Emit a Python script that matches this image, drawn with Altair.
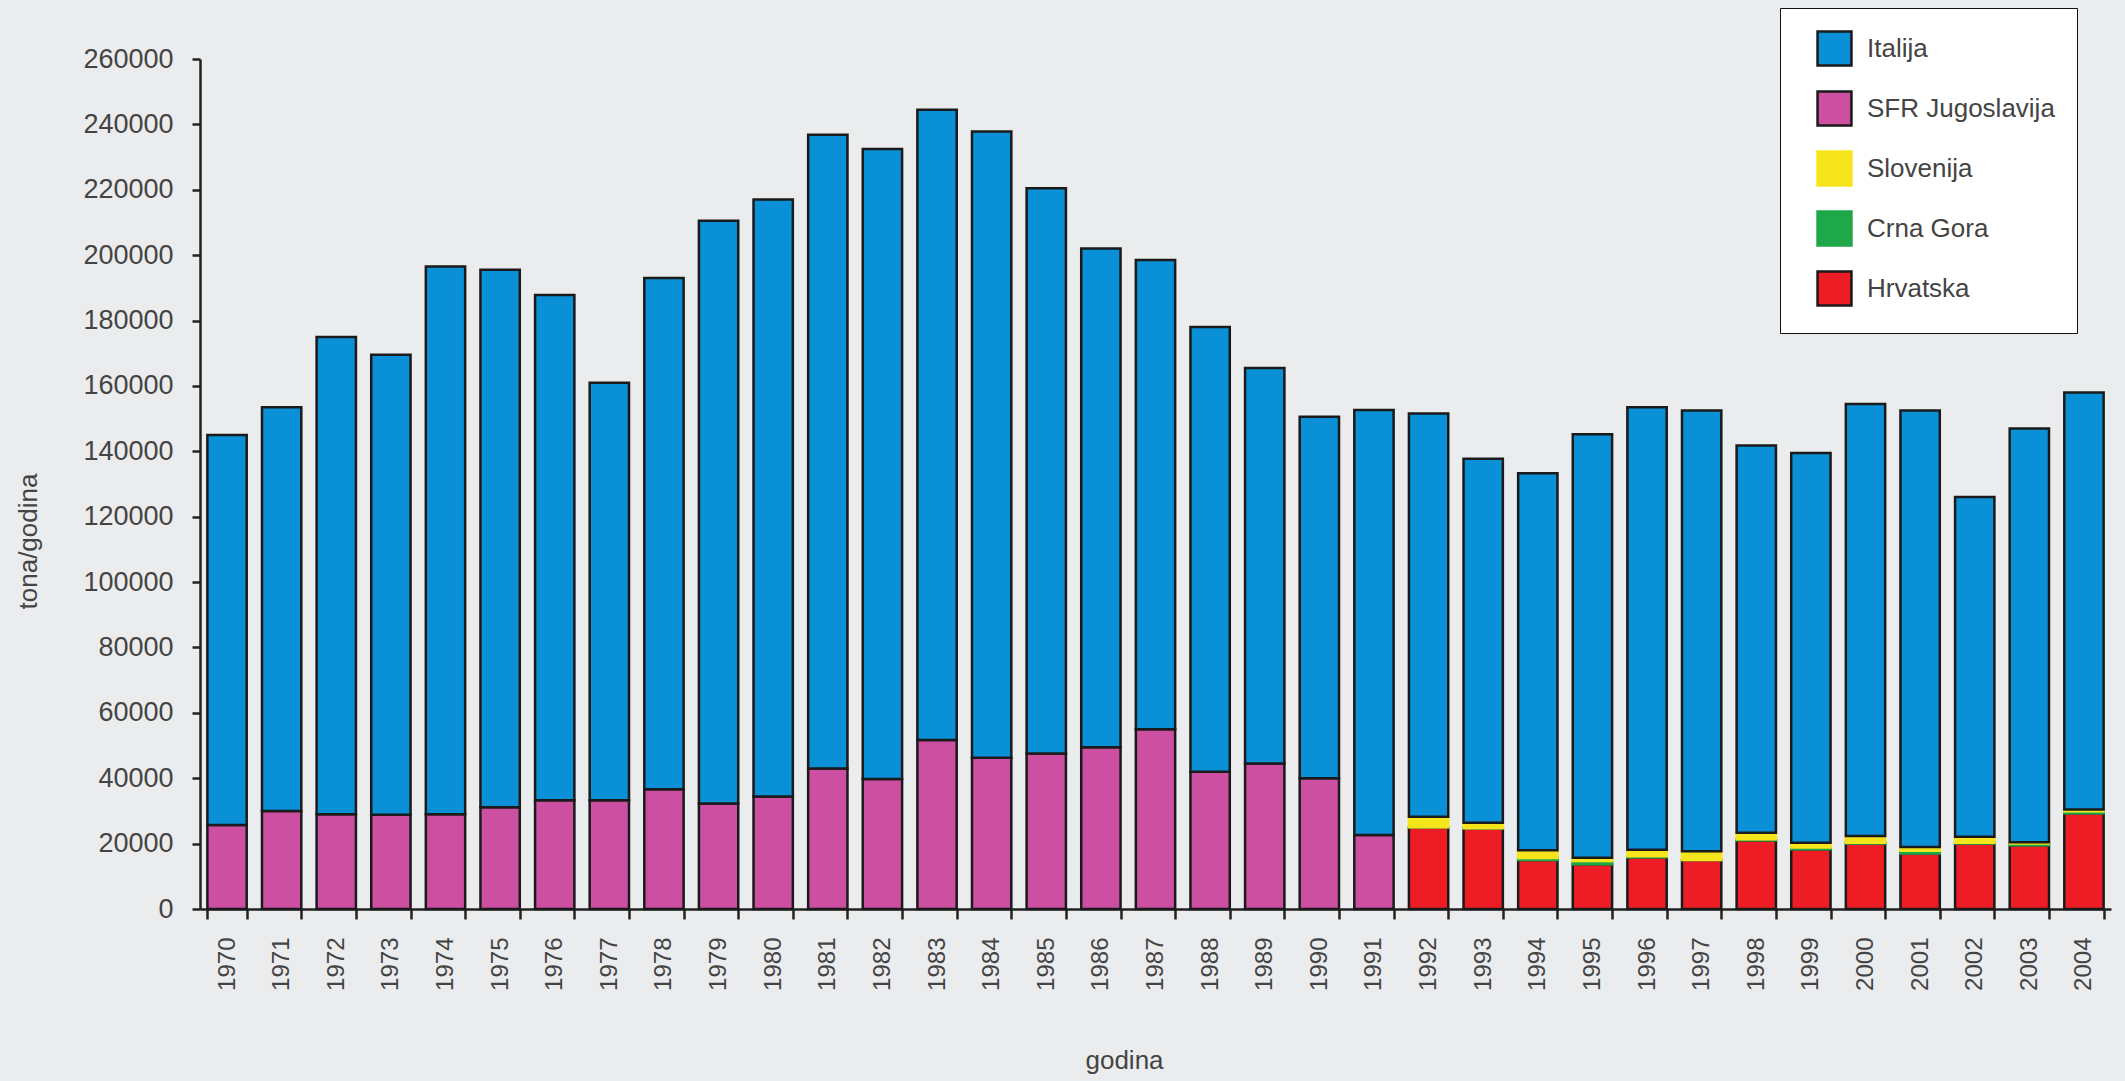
import altair as alt
import pandas as pd

years = [str(y) for y in range(1970, 2005)]

countries = ["Italija", "SFR Jugoslavija", "Slovenija", "Crna Gora", "Hrvatska"]
colors = ["#0a90d6", "#cc4fa2", "#f6e51c", "#1fa84a", "#ee1d25"]
outline_colors = ["#1a1a1a", "#1a1a1a", "#f6e51c", "#1fa84a", "#1a1a1a"]
stack_pos = [4, 3, 2, 1, 0]

italija = [119300, 123500, 146000, 140700, 167500, 164400, 154500, 127700, 156400, 178200,
           182600, 193800, 192700, 192800, 191500, 172900, 152500, 143500, 136000, 121000,
           110600, 130000, 123400, 111300, 115300, 129500, 135400, 134800, 118500, 119200,
           132200, 133500, 103900, 126600, 127600]

sfr_years = [str(y) for y in range(1970, 1992)]
sfr = [25700, 30000, 29000, 28800, 29000, 31100, 33300, 33300, 36600, 32300, 34400,
       43000, 39800, 51700, 46300, 47600, 49500, 55000, 42000, 44500, 40000, 22600]

new_years = [str(y) for y in range(1992, 2005)]
slovenija = [3200, 1700, 2400, 1000, 2000, 2700, 2000, 1500, 2000, 1200, 1800, 400, 500]
crna_gora = [0, 0, 600, 1000, 300, 0, 300, 500, 300, 800, 300, 500, 600]
hrvatska = [25000, 24700, 15000, 13700, 15800, 15000, 21000, 18300, 20000, 17000, 20000, 19500, 29300]

# rows listed bottom layer first so upper layers are drawn over lower ones
rows = []
for y, v in zip(new_years, hrvatska):
    rows.append({"godina": y, "zemlja": "Hrvatska", "v": v})
for y, v in zip(new_years, crna_gora):
    rows.append({"godina": y, "zemlja": "Crna Gora", "v": v})
for y, v in zip(new_years, slovenija):
    rows.append({"godina": y, "zemlja": "Slovenija", "v": v})
for y, v in zip(sfr_years, sfr):
    rows.append({"godina": y, "zemlja": "SFR Jugoslavija", "v": v})
for y, v in zip(years, italija):
    rows.append({"godina": y, "zemlja": "Italija", "v": v})
df = pd.DataFrame(rows)
order_map = dict(zip(countries, stack_pos))
df["ord"] = df["zemlja"].map(order_map)

FONT = "Liberation Sans"
TXT = "#444444"
AX = "#222222"

legend_opts = dict(title=None, orient="none", legendX=1580, legendY=-51,
                   fillColor="white", strokeColor="#111111",
                   padding=22, symbolType="square", symbolSize=1150,
                   symbolStrokeWidth=2.5, labelLimit=500,
                   labelFontSize=26, labelFont=FONT, labelColor=TXT,
                   rowPadding=15, labelOffset=14, symbolOffset=14)

chart = alt.Chart(df).mark_bar(strokeWidth=2.5).encode(
    x=alt.X("godina:N", sort=years,
            scale=alt.Scale(paddingInner=0.28, paddingOuter=0.135),
            axis=alt.Axis(title="godina", tickBand="extent", tickSize=10, tickWidth=2.5,
                          tickColor=AX, domainColor=AX, domainWidth=2.5,
                          labelAngle=270, labelFontSize=24, labelPadding=18,
                          labelColor=TXT, labelFont=FONT,
                          titleFont=FONT, titleFontSize=26, titleFontWeight="normal",
                          titleColor=TXT, titleX=924, titleY=151, titleBaseline="middle",
                          titleAlign="center")),
    y=alt.Y("v:Q", stack="zero",
            scale=alt.Scale(domain=[0, 260000], nice=False),
            axis=alt.Axis(title="tona/godina", values=list(range(0, 260001, 20000)),
                          format="d", grid=False, tickSize=8, tickWidth=2.5, tickColor=AX,
                          domainColor=AX, domainWidth=2.5, labelFontSize=27,
                          labelPadding=19, labelColor=TXT, labelFont=FONT,
                          titleFont=FONT, titleFontSize=26, titleFontWeight="normal",
                          titleColor=TXT, titleAngle=270, titleX=-172, titleY=482,
                          titleAlign="center", titleBaseline="middle")),
    color=alt.Color("zemlja:N",
                    scale=alt.Scale(domain=countries, range=colors),
                    legend=alt.Legend(**legend_opts)),
    stroke=alt.Stroke("zemlja:N",
                      scale=alt.Scale(domain=countries, range=outline_colors),
                      legend=alt.Legend(**legend_opts)),
    order=alt.Order("ord:Q", sort="ascending"),
).properties(
    width=1911, height=850,
    autosize=alt.AutoSizeParams(type="none"),
    padding={"left": 200, "top": 59, "right": 14, "bottom": 172},
).configure(
    background="#ebecee",
).configure_view(
    stroke=None,
)

chart.save("out.html", embed_options={"renderer": "svg", "actions": False})
